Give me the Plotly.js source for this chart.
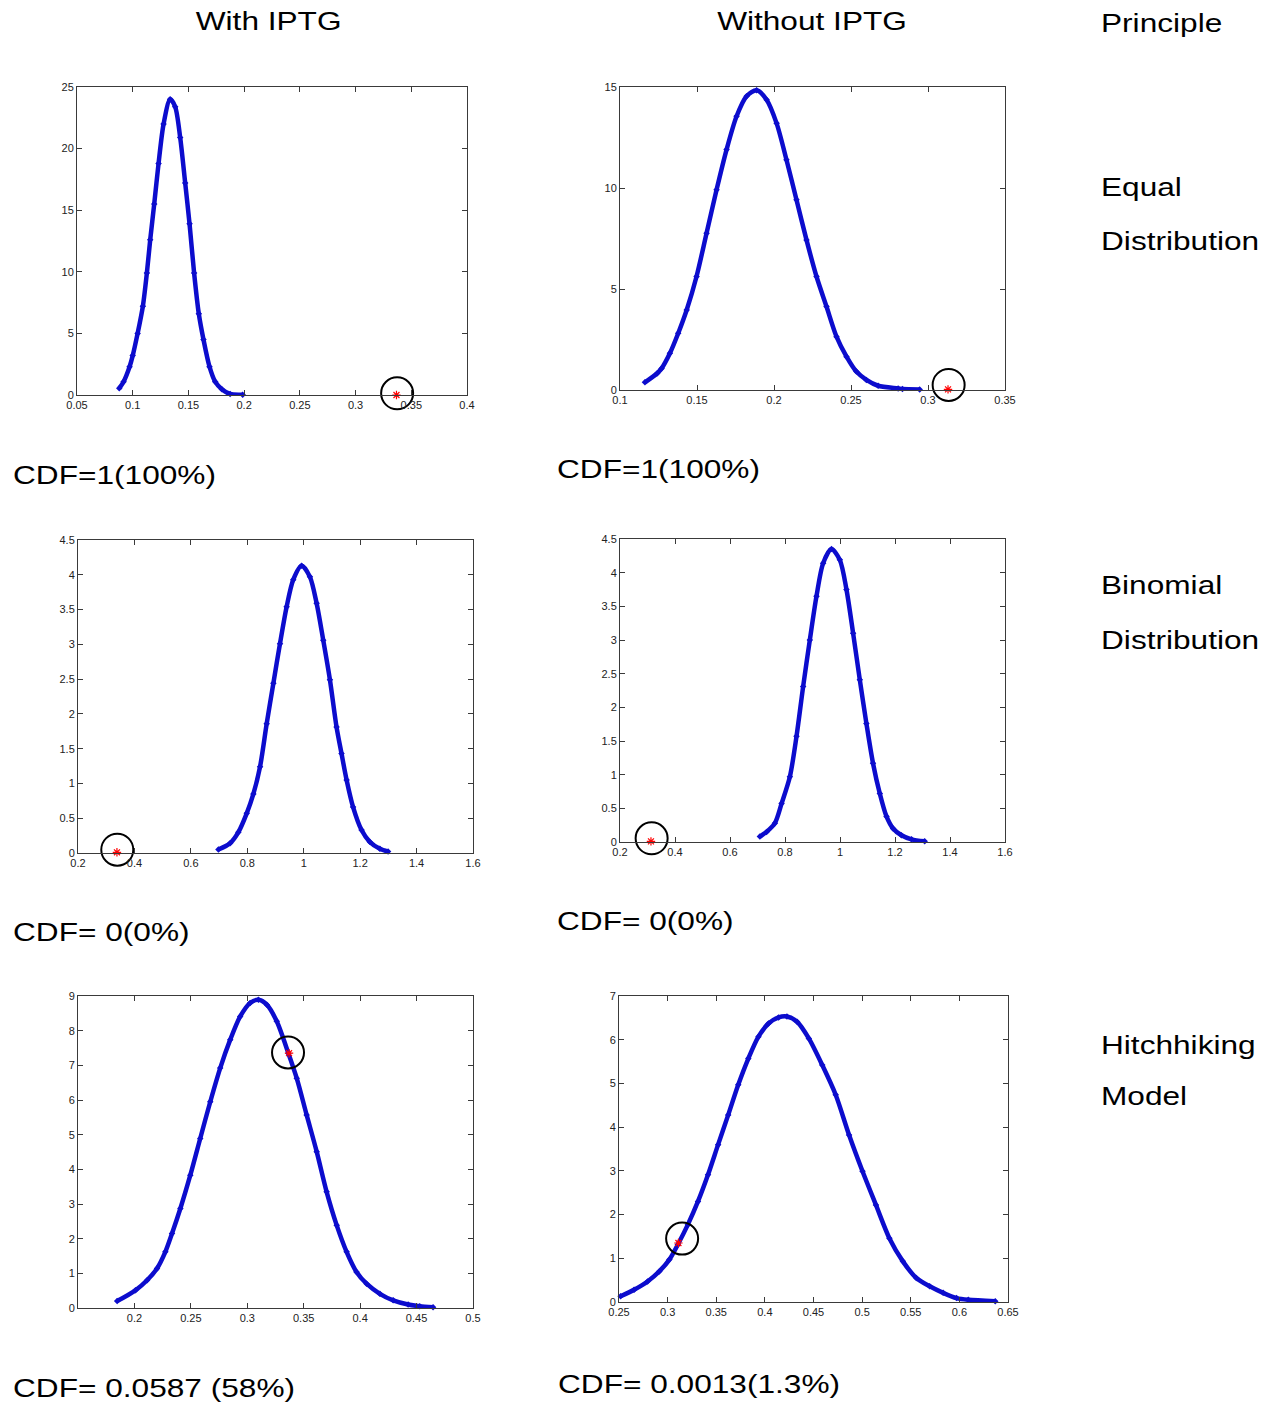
<!DOCTYPE html>
<html>
<head>
<meta charset="utf-8">
<script src="https://cdn.plot.ly/plotly-3.0.1.min.js"></script>
<style>
  html, body { margin: 0; padding: 0; background: #fff; }
  #chart { width: 1272px; height: 1403px; }
</style>
</head>
<body>
<div id="chart"></div>
<script>
// ---------------- DATA ----------------
// Panel 1: With IPTG, Equal Distribution
const p1X = [0.0879,0.0918,0.0972,0.1000,0.1044,0.1091,0.1127,0.1157,0.1193,0.1232,0.1277,0.1336,0.1381,0.1426,0.1471,0.1510,0.1551,0.1593,0.1635,0.1689,0.1740,0.1800,0.1874,0.1987];
const p1Y = [0.54,1.08,2.3,3.2,5.0,7.2,9.9,12.6,15.5,18.8,22.0,24.0,23.4,20.9,17.2,13.9,9.9,6.6,4.5,2.3,1.08,0.46,0.08,0.03];
// Panel 2: Without IPTG, Equal Distribution
const p2X = [0.1162,0.1242,0.1270,0.1324,0.1378,0.1433,0.1497,0.1562,0.1627,0.1692,0.1757,0.1822,0.1887,0.1952,0.2017,0.2081,0.2146,0.2211,0.2276,0.2341,0.2406,0.2471,0.2535,0.2600,0.2676,0.2806,0.2834,0.2946];
const p2Y = [0.38,0.83,1.07,1.82,2.81,3.96,5.62,7.76,9.91,11.9,13.55,14.54,14.84,14.37,13.2,11.4,9.42,7.43,5.62,4.13,2.64,1.65,0.91,0.5,0.21,0.08,0.05,0.03];
// Panel 3: With IPTG, Binomial Distribution
const p3X = [0.6977,0.739,0.7685,0.798,0.8216,0.8452,0.8688,0.8924,0.9159,0.9395,0.963,0.9926,1.022,1.0457,1.0692,1.0929,1.1164,1.134,1.152,1.175,1.205,1.234,1.270,1.299];
const p3Y = [0.05,0.14,0.30,0.57,0.85,1.24,1.86,2.44,3.01,3.54,3.93,4.13,3.97,3.59,3.06,2.49,1.81,1.43,1.05,0.66,0.33,0.16,0.06,0.02];
// Panel 4: Without IPTG, Binomial Distribution
const p4X = [0.7087,0.7329,0.7632,0.7874,0.8177,0.8419,0.866,0.8903,0.9145,0.9387,0.969,0.9993,1.0235,1.0477,1.072,1.096,1.12,1.1447,1.169,1.193,1.2234,1.26,1.308];
const p4Y = [0.08,0.15,0.28,0.57,0.97,1.57,2.31,3.0,3.65,4.14,4.35,4.19,3.75,3.1,2.41,1.76,1.17,0.72,0.38,0.2,0.10,0.04,0.01];
// Panel 5: With IPTG, Hitchhiking Model
const p5X = [0.1847,0.2009,0.2112,0.2200,0.2274,0.2333,0.2407,0.2495,0.2583,0.2672,0.2760,0.2849,0.2937,0.3025,0.3099,0.3173,0.3261,0.3364,0.3438,0.3526,0.3615,0.3703,0.3792,0.3880,0.3968,0.4057,0.4175,0.4293,0.4425,0.4528,0.4646];
const p5Y = [0.2,0.51,0.8,1.14,1.62,2.15,2.87,3.83,4.89,5.95,6.92,7.74,8.41,8.8,8.89,8.75,8.27,7.35,6.63,5.57,4.51,3.35,2.39,1.62,1.04,0.70,0.41,0.22,0.10,0.05,0.02];
// Panel 6: Without IPTG, Hitchhiking Model
const p6X = [0.2517,0.2655,0.2794,0.2914,0.3018,0.3104,0.3208,0.3312,0.3415,0.3519,0.3623,0.3726,0.3830,0.3934,0.4037,0.4141,0.4227,0.4331,0.4452,0.4590,0.4728,0.4866,0.5004,0.5142,0.5280,0.5419,0.5557,0.5695,0.5833,0.5971,0.6092,0.6369];
const p6Y = [0.13,0.28,0.47,0.70,0.97,1.31,1.77,2.3,2.91,3.6,4.28,4.97,5.57,6.07,6.37,6.51,6.53,6.41,6.03,5.42,4.74,3.82,2.99,2.22,1.46,0.93,0.55,0.36,0.21,0.09,0.05,0.02];

// Observed values (red stars) and the circles drawn around them
const obsX = [0.3367, 0.313, 0.338, 0.3126, 0.337, 0.3111];
const obsY = [0.0, 0.03, 0.01, 0.01, 7.35, 1.35];
const ringX = [0.3373, 0.3134, 0.3392, 0.315, 0.3361, 0.3149];
const ringY = [0.14, 0.25, 0.048, 0.055, 7.37, 1.45];

// Axis ranges and tick labels
const xRanges = [[0.05,0.4],[0.1,0.35],[0.2,1.6],[0.2,1.6],[0.15,0.5],[0.25,0.65]];
const yRanges = [[0,25],[0,15],[0,4.5],[0,4.5],[0,9],[0,7]];
const xTickLabels = [
  ['0.05','0.1','0.15','0.2','0.25','0.3','0.35','0.4'],
  ['0.1','0.15','0.2','0.25','0.3','0.35'],
  ['0.2','0.4','0.6','0.8','1','1.2','1.4','1.6'],
  ['0.2','0.4','0.6','0.8','1','1.2','1.4','1.6'],
  ['0.2','0.25','0.3','0.35','0.4','0.45','0.5'],
  ['0.25','0.3','0.35','0.4','0.45','0.5','0.55','0.6','0.65']
];
const yTickLabels = [
  ['0','5','10','15','20','25'],
  ['0','5','10','15'],
  ['0','0.5','1','1.5','2','2.5','3','3.5','4','4.5'],
  ['0','0.5','1','1.5','2','2.5','3','3.5','4','4.5'],
  ['0','1','2','3','4','5','6','7','8','9'],
  ['0','1','2','3','4','5','6','7']
];

// Texts
const columnTitles = ['With IPTG', 'Without IPTG'];
const rowLabels = [['Principle'], ['Equal', 'Distribution'], ['Binomial', 'Distribution'], ['Hitchhiking', 'Model']];
const cdfTexts = ['CDF=1(100%)', 'CDF=1(100%)', 'CDF= 0(0%)', 'CDF= 0(0%)', 'CDF= 0.0587 (58%)', 'CDF= 0.0013(1.3%)'];

// ---------------- LAYOUT ----------------
const W = 1272, H = 1403;
const boxes = [[77,87,467,395],[620,87,1005,390],[78,540,473,853],[620,539,1005,842],[78,996,473,1308],[619,996,1008,1302]];
const seriesX = [p1X,p2X,p3X,p4X,p5X,p6X];
const seriesY = [p1Y,p2Y,p3Y,p4Y,p5Y,p6Y];
const BLUE = 'rgb(12,12,205)';
const AXC = '#3a3a3a';
const tickFont = {family: 'Liberation Sans, Arial, sans-serif', size: 11, color: '#222'};

const traces = [];
const layout = {
  width: W, height: H,
  margin: {l:0, r:0, t:0, b:0},
  paper_bgcolor: '#fff', plot_bgcolor: '#fff',
  showlegend: false,
  annotations: []
};

for (let i = 0; i < 6; i++) {
  const n = i + 1;
  const xa = n === 1 ? 'x' : 'x' + n;
  const ya = n === 1 ? 'y' : 'y' + n;
  const b = boxes[i];
  const common = {
    ticks: 'inside', ticklen: 5, tickwidth: 1, tickcolor: AXC,
    showline: true, linecolor: AXC, linewidth: 1, mirror: 'ticks',
    showgrid: false, zeroline: false, tickfont: tickFont, fixedrange: true,
    tickmode: 'array'
  };
  layout['xaxis' + (n === 1 ? '' : n)] = Object.assign({}, common, {
    domain: [b[0]/W, b[2]/W], range: xRanges[i], anchor: ya,
    tickvals: xTickLabels[i].map(Number), ticktext: xTickLabels[i]
  });
  layout['yaxis' + (n === 1 ? '' : n)] = Object.assign({}, common, {
    domain: [1 - b[3]/H, 1 - b[1]/H], range: yRanges[i], anchor: xa,
    tickvals: yTickLabels[i].map(Number), ticktext: yTickLabels[i]
  });
  traces.push({
    type: 'scatter', mode: 'lines+markers', x: seriesX[i], y: seriesY[i],
    xaxis: xa, yaxis: ya, cliponaxis: false,
    line: {color: BLUE, width: 4.5, shape: 'spline', smoothing: 0.8},
    marker: {color: BLUE, size: 5, symbol: 'diamond'}
  });
  traces.push({
    type: 'scatter', mode: 'markers', x: [obsX[i]], y: [obsY[i]],
    xaxis: xa, yaxis: ya, cliponaxis: false,
    marker: {symbol: 'asterisk-open', size: 7, color: 'red', line: {color: 'red', width: 1.2}}
  });
  traces.push({
    type: 'scatter', mode: 'markers', x: [ringX[i]], y: [ringY[i]],
    xaxis: xa, yaxis: ya, cliponaxis: false,
    marker: {symbol: 'circle-open', size: 32, color: '#000', line: {color: '#000', width: 2}}
  });
}

// annotations: [text, px, py, anchor]
const labelFont = {family: 'Liberation Sans, Arial, sans-serif', size: 25, color: '#000'};
const annSpec = [];
annSpec.push([columnTitles[0], 268, 21, 'center']);
annSpec.push([columnTitles[1], 812, 21, 'center']);
annSpec.push([rowLabels[0][0], 1100, 23, 'left']);
annSpec.push([rowLabels[1][0], 1100, 187, 'left']);
annSpec.push([rowLabels[1][1], 1100, 241, 'left']);
annSpec.push([rowLabels[2][0], 1100, 585, 'left']);
annSpec.push([rowLabels[2][1], 1100, 640, 'left']);
annSpec.push([rowLabels[3][0], 1100, 1045, 'left']);
annSpec.push([rowLabels[3][1], 1100, 1096, 'left']);
const cdfPos = [[12,475],[556,469],[12,932],[556,921],[12,1388],[557,1384]];
cdfTexts.forEach((t, i) => annSpec.push([t, cdfPos[i][0], cdfPos[i][1], 'left']));

annSpec.forEach(a => {
  layout.annotations.push({
    text: a[0], xref: 'paper', yref: 'paper',
    x: a[1]/W, y: 1 - a[2]/H, xanchor: a[3], yanchor: 'middle',
    showarrow: false, font: labelFont, borderpad: 0
  });
});

Plotly.newPlot('chart', traces, layout, {displayModeBar: false, staticPlot: true}).then(() => {
  // the reference's labels are horizontally stretched; widen them a bit
  const SX = 1.265;
  document.querySelectorAll('g.annotation').forEach(g => {
    const idx = +g.getAttribute('data-index');
    const t = g.querySelector('text.annotation-text');
    if (!t) return;
    const bb = t.getBBox();
    const o = annSpec[idx][3] === 'center' ? bb.x + bb.width/2 : bb.x;
    t.setAttribute('transform', `translate(${o},0) scale(${SX},1) translate(${-o},0)`);
  });
});
</script>
</body>
</html>
